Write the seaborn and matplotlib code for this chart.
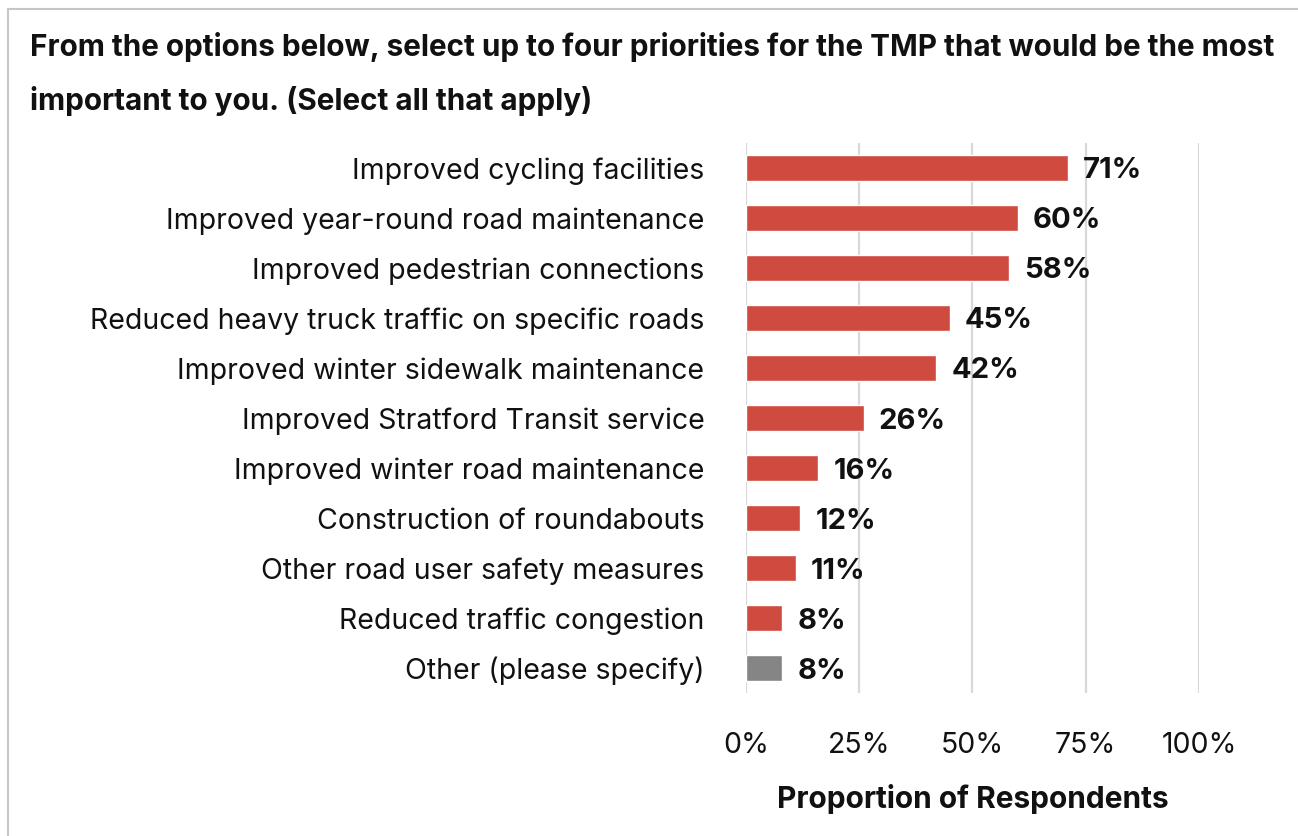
from matplotlib import pyplot as plt
from matplotlib.lines import Line2D
import seaborn as sns
import pandas as pd

# Data
categories = ['Improved cycling facilities',
              'Improved year-round road maintenance',
              'Improved pedestrian connections',
              'Reduced heavy truck traffic on specific roads',
              'Improved winter sidewalk maintenance',
              'Improved Stratford Transit service',
              'Improved winter road maintenance',
              'Construction of roundabouts',
              'Other road user safety measures',
              'Reduced traffic congestion',
              'Other (please specify)']
percent = [71, 60, 58, 45, 42, 26, 16, 12, 11, 8, 8]
x_ticks = [0, 25, 50, 75, 100]

title = ('From the options below, select up to four priorities for the TMP that would be the most\n'
         'important to you. (Select all that apply)')

red = '#cf4a3f'
grey = '#858585'
colors = [red] * (len(categories) - 1) + [grey]

sns.set_style('white')
plt.rcParams['font.family'] = ['Inter', 'DejaVu Sans']

df = pd.DataFrame({'cat': categories, 'pct': percent})

fig = plt.figure(figsize=(12.98, 8.36), dpi=100)
ax = fig.add_axes([0.5747, 0.171, 0.349, 0.658])

sns.barplot(data=df, x='pct', y='cat', hue='cat', palette=colors, legend=False,
            saturation=1, width=0.52, ax=ax, zorder=3)

ax.set_xlim(0, 100)
ax.set_xticks(x_ticks)
ax.set_xticklabels([f'{t}%' for t in x_ticks], fontsize=20.5, color='#111111')
ax.tick_params(axis='x', pad=28, length=0)
ax.tick_params(axis='y', pad=30, length=0, labelsize=20.5, labelcolor='#111111')
ax.set_ylabel('')
ax.set_xlabel('Proportion of Respondents', fontsize=21.5, fontweight='bold',
              labelpad=18, color='#111111')
ax.grid(axis='x', color='#d9d9d9', lw=1.6, zorder=0)
for s in ax.spines.values():
    s.set_visible(False)

# Value labels
for i, v in enumerate(percent):
    ax.text(v + 3.3, i + 0.06, f'{v}%', va='center', ha='left', fontsize=21,
            fontweight='bold', color='#111111')

fig.text(0.023, 0.962, title, ha='left', va='top', fontsize=21.4, fontweight='bold',
         color='#111111', linespacing=2.0)

# Outer frame (top and left)
fig.add_artist(Line2D([0.0065, 1.0], [0.9895, 0.9895], color='#c6c6c6', lw=1.5,
                      transform=fig.transFigure))
fig.add_artist(Line2D([0.0065, 0.0065], [0.0, 0.9895], color='#c6c6c6', lw=1.5,
                      transform=fig.transFigure))

plt.savefig('out.png', dpi=100)
plt.close()
